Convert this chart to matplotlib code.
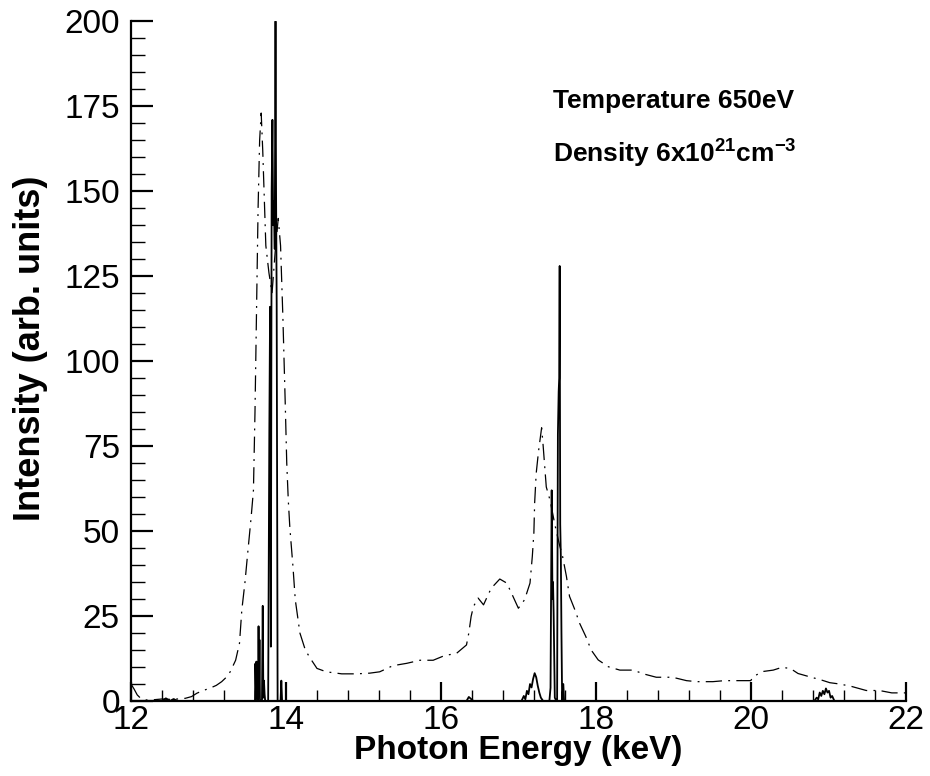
import matplotlib
matplotlib.use("Agg")
import matplotlib.pyplot as plt
from matplotlib.ticker import MultipleLocator

plt.rcParams['font.family'] = ['Liberation Sans', 'DejaVu Sans']
plt.rcParams['mathtext.fontset'] = 'custom'
plt.rcParams['mathtext.rm'] = 'Liberation Sans'
plt.rcParams['mathtext.bf'] = 'Liberation Sans:bold'

# broadened spectrum (dash-dot)
broad_e = [12.00, 12.04, 12.08, 12.12, 12.20, 12.30, 12.40, 12.50, 12.60, 12.70,
           12.78, 12.85, 12.92, 13.02, 13.10, 13.17, 13.23, 13.28, 13.35, 13.40,
           13.43, 13.47, 13.51, 13.55, 13.58, 13.60, 13.62, 13.64, 13.66, 13.68,
           13.70, 13.72, 13.74, 13.78, 13.82, 13.86, 13.90, 13.93, 13.96, 13.99,
           14.01, 14.03, 14.05, 14.09, 14.12, 14.18, 14.25, 14.31, 14.40, 14.52,
           14.72, 14.91, 15.08, 15.21, 15.38, 15.56, 15.73, 15.90, 16.05, 16.20,
           16.33, 16.36, 16.39, 16.42, 16.48, 16.55, 16.61, 16.65, 16.76, 16.85,
           16.91, 17.00, 17.08, 17.15, 17.18, 17.20, 17.21, 17.23, 17.26, 17.30,
           17.32, 17.34, 17.36, 17.41, 17.47, 17.53, 17.57, 17.62, 17.66, 17.73,
           17.79, 17.87, 17.94, 18.03, 18.16, 18.31, 18.48, 18.63, 18.78, 18.99,
           19.17, 19.30, 19.51, 19.66, 19.80, 20.00, 20.03, 20.16, 20.29, 20.40,
           20.51, 20.61, 20.78, 20.91, 21.02, 21.15, 21.30, 21.49, 21.66, 21.82,
           21.96, 22.00]
broad_i = [5.0, 3.5, 1.8, 0.9, 0.3, 0.4, 0.6, 0.5, 0.6, 0.8,
           1.3, 2.3, 3.0, 3.8, 4.6, 5.7, 7.0, 8.6, 12.0, 17.0,
           26.8, 34.8, 44.5, 54.0, 62.0, 85.0, 115.0, 145.0, 165.0, 173.0,
           162.0, 148.0, 134.0, 126.0, 120.0, 132.0, 142.0, 134.0, 113.0, 88.0,
           70.0, 59.0, 51.0, 39.6, 29.8, 20.0, 15.0, 12.7, 9.6, 8.6,
           8.0, 8.0, 8.2, 8.6, 10.4, 11.1, 12.0, 12.0, 13.4, 14.0,
           16.5, 20.0, 24.9, 27.8, 30.3, 28.3, 31.3, 33.2, 35.9, 34.7,
           31.8, 27.3, 29.8, 34.7, 42.6, 49.5, 58.3, 67.0, 73.5, 80.4,
           75.0, 69.0, 63.0, 59.0, 52.0, 46.0, 42.6, 36.7, 30.8, 26.8,
           22.9, 19.0, 15.0, 12.1, 10.1, 9.1, 9.1, 7.9, 7.0, 7.0,
           6.0, 5.7, 5.7, 6.0, 6.0, 6.0, 7.2, 8.7, 9.1, 9.9,
           9.6, 8.1, 7.0, 6.2, 5.4, 5.0, 4.3, 3.1, 3.1, 2.4,
           2.4, 2.4]

# line spectrum (solid)
line_e = [12.00, 12.40, 12.45, 12.50, 12.55, 12.60, 13.58,
          13.600, 13.605, 13.612, 13.618, 13.625, 13.632,
          13.640, 13.646, 13.652, 13.658, 13.664, 13.670,
          13.690, 13.700, 13.708, 13.716, 13.724, 13.732,
          13.770, 13.785, 13.795, 13.805, 13.815, 13.825, 13.835, 13.845,
          13.855, 13.865, 13.872, 13.880, 13.886, 13.892, 13.898,
          13.930, 13.940, 13.950,
          16.33, 16.36, 16.39, 16.42,
          17.04, 17.07, 17.09, 17.11, 17.13, 17.15, 17.17, 17.19, 17.21,
          17.23, 17.25, 17.27, 17.29, 17.32,
          17.40, 17.415, 17.43, 17.44, 17.447, 17.455, 17.47, 17.49,
          17.500, 17.510, 17.520, 17.527, 17.533, 17.540, 17.548, 17.556,
          17.565, 17.58, 17.59, 17.60,
          20.82, 20.85, 20.87, 20.89, 20.91, 20.93, 20.95, 20.97,
          20.99, 21.01, 21.03, 21.05, 21.08, 22.00]
line_i = [0.0, 0.0, 0.8, 0.0, 0.6, 0.0, 0.0,
          0.0, 11.0, 4.0, 11.6, 0.5, 0.0,
          0.0, 22.0, 3.0, 18.0, 0.5, 0.0,
          0.0, 28.0, 1.0, 6.0, 2.0, 0.0,
          0.0, 79.0, 116.0, 16.0, 150.0, 171.0, 140.0, 147.0,
          133.0, 200.0, 150.0, 117.0, 60.0, 0.0, 0.0,
          0.0, 6.0, 0.0,
          0.0, 1.2, 0.6, 0.0,
          0.0, 1.5, 0.5, 3.0, 2.0, 5.0, 4.0, 6.5, 8.2,
          7.0, 4.5, 2.5, 1.0, 0.0,
          0.0, 3.9, 62.0, 30.0, 35.0, 26.0, 1.0, 0.0,
          0.0, 78.5, 91.0, 95.0, 128.0, 52.0, 42.6, 20.0,
          0.0, 5.0, 0.0, 0.0,
          0.0, 1.0, 0.5, 2.5, 1.5, 3.0, 2.0, 3.7,
          2.5, 3.0, 1.0, 1.5, 0.0, 0.0]

fig = plt.figure(figsize=(9.3, 7.76), dpi=100)
ax = fig.add_axes([0.1409, 0.0966, 0.833, 0.876])

ax.plot(broad_e, broad_i, color="black", lw=0.9,
        linestyle=(0, (13, 5, 1.5, 5)))
ax.plot(line_e, line_i, color="black", lw=1.3)

ax.set_xlim(12, 22)
ax.set_ylim(0, 200)
ax.xaxis.set_major_locator(MultipleLocator(2))
ax.xaxis.set_minor_locator(MultipleLocator(0.4))
ax.yaxis.set_major_locator(MultipleLocator(25))
ax.yaxis.set_minor_locator(MultipleLocator(5))

for s in ["top", "right"]:
    ax.spines[s].set_visible(False)
for s in ["left", "bottom"]:
    ax.spines[s].set_linewidth(1.6)

ax.tick_params(axis="y", which="major", direction="in", length=16, width=1.6,
               labelsize=24, pad=8)
ax.tick_params(axis="y", which="minor", direction="in", length=10, width=1.0)
ax.tick_params(axis="x", which="major", direction="in", length=14, width=1.6,
               labelsize=24, pad=3)
ax.tick_params(axis="x", which="minor", direction="in", length=8, width=1.0)

ax.set_xlabel("Photon Energy (keV)", fontsize=24, fontweight="bold", labelpad=-1)
ax.set_ylabel("Intensity (arb. units)", fontsize=26, fontweight="bold")
ax.yaxis.set_label_coords(-0.107, 0.519)

ax.text(0.545, 0.872, "Temperature 650eV", transform=ax.transAxes,
        fontsize=19, fontweight="bold")
ax.text(0.545, 0.793, r"Density 6x10$^{\mathbf{21}}$cm$^{\mathbf{-3}}$",
        transform=ax.transAxes, fontsize=19, fontweight="bold")

fig.savefig("out.png", dpi=100)
